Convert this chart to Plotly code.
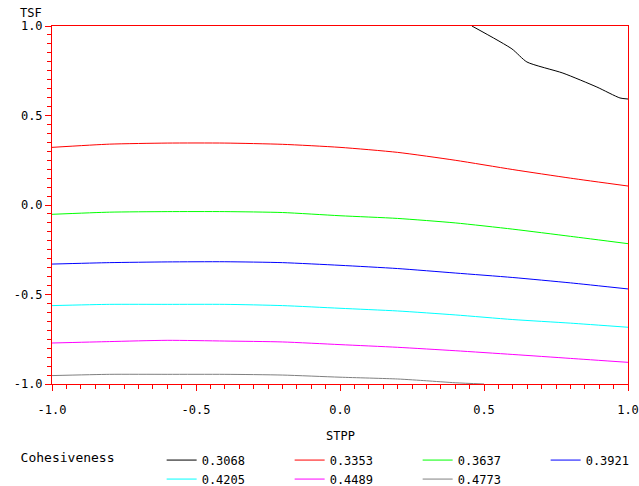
import plotly.graph_objects as go

# Contour levels (legend labels) and colours
levels = ["0.3068", "0.3353", "0.3637", "0.3921", "0.4205", "0.4489", "0.4773"]
colors = ["#000000", "#FF0000", "#00FF00", "#0000FF", "#00FFFF", "#FF00FF", "#808080"]

# STPP grid for the smooth contours
stpp = [-1.0, -0.8, -0.6, -0.4, -0.2, 0.0, 0.2, 0.4, 0.6, 0.8, 1.0]

# Black contour (0.3068) only in the upper-right corner
stpp_3068 = [0.458, 0.597, 0.649, 0.774, 0.892, 0.972, 1.0]
tsf_3068 = [1.0, 0.872, 0.799, 0.737, 0.659, 0.598, 0.592]

tsf_3353 = [0.322, 0.340, 0.346, 0.346, 0.339, 0.322, 0.294, 0.250, 0.198, 0.150, 0.106]
tsf_3637 = [-0.052, -0.040, -0.037, -0.037, -0.042, -0.060, -0.075, -0.100, -0.135, -0.175, -0.216]
tsf_3921 = [-0.330, -0.322, -0.318, -0.317, -0.322, -0.337, -0.355, -0.380, -0.405, -0.435, -0.469]
tsf_4205 = [-0.562, -0.555, -0.555, -0.555, -0.562, -0.577, -0.592, -0.614, -0.640, -0.660, -0.683]
tsf_4489 = [-0.771, -0.763, -0.756, -0.760, -0.765, -0.780, -0.795, -0.814, -0.835, -0.857, -0.879]

# Grey contour (0.4773) ends at the bottom edge near STPP = 0.5
stpp_4773 = [-1.0, -0.8, -0.6, -0.4, -0.2, 0.0, 0.2, 0.3, 0.4, 0.5]
tsf_4773 = [-0.953, -0.946, -0.946, -0.946, -0.950, -0.962, -0.972, -0.982, -0.993, -1.0]

xs = [stpp_3068, stpp, stpp, stpp, stpp, stpp, stpp_4773]
ys = [tsf_3068, tsf_3353, tsf_3637, tsf_3921, tsf_4205, tsf_4489, tsf_4773]

x_ticks = [-1.0, -0.5, 0.0, 0.5, 1.0]
x_ticklabels = ["-1.0", "-0.5", "0.0", "0.5", "1.0"]
y_ticks = [-1.0, -0.5, 0.0, 0.5, 1.0]
y_ticklabels = ["-1.0", "-0.5", "0.0", "0.5", "1.0"]

mono = "DejaVu Sans Mono"

fig = go.Figure()
for lab, col, x, y in zip(levels, colors, xs, ys):
    fig.add_trace(go.Scatter(x=x, y=y, mode="lines", name=lab,
                             line=dict(color=col, width=1, shape="spline", smoothing=0.6)))

axis_common = dict(
    showline=True, linecolor="#FF0000", linewidth=1, mirror=True,
    ticks="outside", tickcolor="#FF0000", ticklen=6, tickwidth=1,
    showgrid=False, zeroline=False, automargin=False,
    minor=dict(ticks="outside", ticklen=4, tickcolor="#FF0000", dtick=0.05, showgrid=False),
    tickfont=dict(family=mono, size=12, color="black"),
)

fig.update_xaxes(range=[-1, 1], tickvals=x_ticks, ticktext=x_ticklabels,
                 ticklabelstandoff=9, **axis_common)
fig.update_yaxes(range=[-1, 1], tickvals=y_ticks, ticktext=y_ticklabels,
                 ticklabelstandoff=0, **axis_common)

fig.update_layout(
    width=639, height=486,
    margin=dict(l=52, r=11, t=26, b=102, autoexpand=False),
    plot_bgcolor="white", paper_bgcolor="white",
    font=dict(family=mono, size=12, color="black"),
    showlegend=True,
    legend=dict(orientation="h", x=-0.058, xanchor="left", y=-0.172, yanchor="top",
                entrywidth=83, entrywidthmode="pixels", itemwidth=30,
                title=dict(text="Cohesiveness     ", side="left",
                           font=dict(family=mono, size=13, color="black")),
                font=dict(family=mono, size=12, color="black"),
                bgcolor="rgba(0,0,0,0)", borderwidth=0, tracegroupgap=0),
    annotations=[
        dict(text="TSF", xref="paper", yref="paper", x=-0.0139, y=1.035,
             xanchor="right", yanchor="middle", showarrow=False,
             font=dict(family=mono, size=12, color="black")),
        dict(text="STPP", xref="paper", yref="paper", x=0.5, y=-0.145,
             xanchor="center", yanchor="middle", showarrow=False,
             font=dict(family=mono, size=12, color="black")),
    ],
)

fig.write_html("out.html", config={"displayModeBar": False},
               post_script="document.body.style.margin='0';document.body.style.overflow='hidden';")
